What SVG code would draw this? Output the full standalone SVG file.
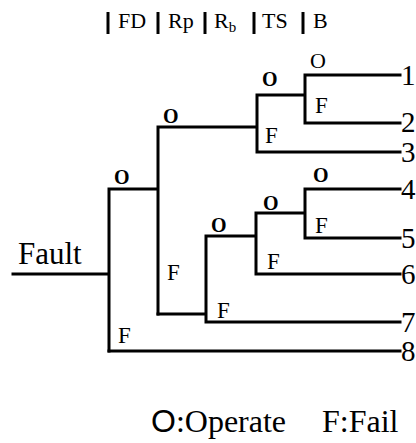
<svg xmlns="http://www.w3.org/2000/svg" width="416" height="443" viewBox="0 0 416 443">
<style>
.ln{fill:none;stroke:#000;stroke-width:3;stroke-linecap:square;stroke-linejoin:miter}
.bar{stroke:#000;stroke-width:3}
</style>
<rect width="416" height="443" fill="#fff"/>
<g id="header" font-family="Liberation Serif, DejaVu Serif, serif" font-size="22" fill="#000">
<line class="bar" x1="108" y1="12" x2="108" y2="34"/>
<line class="bar" x1="158" y1="12" x2="158" y2="34"/>
<line class="bar" x1="205" y1="12" x2="205" y2="34"/>
<line class="bar" x1="254" y1="12" x2="254" y2="34"/>
<line class="bar" x1="303" y1="12" x2="303" y2="34"/>
<text x="118" y="28">FD</text>
<text x="168" y="28">Rp</text>
<text x="214" y="28">R<tspan font-size="15" dy="4">b</tspan></text>
<text x="262" y="28">TS</text>
<text x="313" y="28">B</text>
</g>
<g id="connectors">
<path class="ln" d="M13 274H109M109 189V351M109 189H158M158 127V314M158 127H257M257 95V152M257 95H305M305 75V123M305 75H400M305 123H400M257 152H400"/>
<path class="ln" d="M158 314H206M206 236V322M206 236H256M256 213V274M256 213H305M305 189V238M305 189H400M305 238H400M256 274H400M206 322H400M109 351H400"/>
</g>
<g id="fault" font-family="Liberation Serif, DejaVu Serif, serif" fill="#000"><text x="18" y="264" font-size="31">Fault</text></g>
<g id="labels-operate" font-family="Liberation Serif, DejaVu Serif, serif" fill="#000" font-size="20" font-weight="bold">
<text x="114" y="184">O</text>
<text x="163" y="123">O</text>
<text x="262" y="86">O</text>
<text x="310" y="68" font-size="22" font-weight="normal">O</text>
<text x="211" y="232">O</text>
<text x="263" y="210">O</text>
<text x="313" y="182">O</text>
</g>
<g id="labels-fail" font-family="Liberation Serif, DejaVu Serif, serif" fill="#000" font-size="23">
<text x="315" y="113">F</text>
<text x="265" y="143">F</text>
<text x="167" y="280">F</text>
<text x="315" y="233">F</text>
<text x="267" y="269">F</text>
<text x="217" y="318">F</text>
<text x="118" y="343">F</text>
</g>
<g id="outcomes" font-family="Liberation Serif, DejaVu Serif, serif" fill="#000" font-size="29">
<text x="401" y="85">1</text>
<text x="401" y="132">2</text>
<text x="401" y="162">3</text>
<text x="401" y="199">4</text>
<text x="401" y="248">5</text>
<text x="401" y="284">6</text>
<text x="401" y="332">7</text>
<text x="401" y="361">8</text>
</g>
<g id="legend" font-family="Liberation Serif, DejaVu Serif, serif" fill="#000" font-size="32">
<text x="151" y="432"><tspan font-family="Liberation Sans, Arial, sans-serif">O</tspan>:Operate<tspan x="322">F:Fail</tspan></text>
</g>
</svg>
